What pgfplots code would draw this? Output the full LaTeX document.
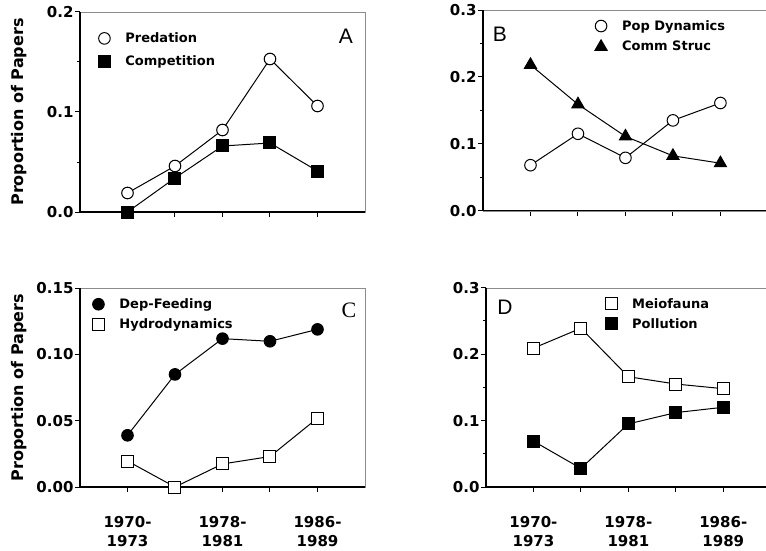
\documentclass[border=0pt]{standalone}
\usepackage{fontspec}
\setmainfont{DejaVu Sans}
\newfontfamily\lsans{Liberation Sans}
\newfontfamily\lserif{Liberation Serif}
\usepackage{pgfplots}
\pgfplotsset{compat=1.18}

\newcommand{\spines}{%
  \draw[black, line width=1.8pt] (rel axis cs:0,0) -- (rel axis cs:0,1);
  \draw[black, line width=1.3pt] (rel axis cs:0,0) -- (rel axis cs:1,0);
}

\pgfplotsset{
  legend image code/.code={\draw[#1, only marks] plot coordinates {(0pt,0pt)};},
  panel/.style={
    scale only axis, anchor=south west, clip=false,
    xmin=0, xmax=6, xtick={1,2,3,4,5}, xticklabels={},
    xtick pos=bottom, ytick pos=left,
    tick align=outside, major tick length=5pt, minor tick length=3pt,
    every tick/.style={black, line width=1pt},
    axis line style={black!45, line width=0.4pt},
    ticklabel style={font=\fontsize{15}{19}\selectfont\bfseries},
    yticklabel style={xshift=2pt},
    /pgf/number format/assume math mode=true,
    /pgf/number format/fixed, /pgf/number format/fixed zerofill,
    /pgf/number format/precision=1,
    every axis plot/.append style={black, line width=1pt, mark options={solid, line width=1.3pt}},
    legend style={draw=none, fill=none, inner sep=0pt, anchor=north west,
      font=\fontsize{13}{13}\selectfont\bfseries,
      nodes={inner sep=0pt}, row sep=8pt,
      /tikz/every odd column/.append style={column sep=15pt}},
    legend cell align=left,
  },
  leftlabel/.style={
    ylabel={Proportion of Papers},
    ylabel style={at={(axis description cs:-0.214,0.5)}, anchor=center,
      font=\fontsize{16}{16}\selectfont\bfseries},
  },
  bottomlabels/.style={
    xticklabels={{1970-\\1973},{},{1978-\\1981},{},{1986-\\1989}},
    xticklabel style={align=center, yshift=-21pt},
  },
}

\begin{document}
\begin{tikzpicture}
\useasboundingbox (0pt,0pt) rectangle (766pt,550pt);

% Panel A
\begin{axis}[panel, leftlabel, at={(80pt,338pt)}, width=285pt, height=200pt,
  ymin=0, ymax=0.2, ytick={0,0.1,0.2}, minor ytick={0.05,0.15},
  legend style={at={(0.064,0.898)}, row sep=11pt}]
  \spines
  \addplot[mark=*, mark size=5.8pt, mark options={fill=white}] coordinates {(1,0.019) (2,0.046) (3,0.082) (4,0.153) (5,0.106)};
  \addlegendentry{Predation}
  \addplot[mark=square*, mark size=6pt, mark options={fill=black}] coordinates {(1,0.0) (2,0.034) (3,0.066) (4,0.069) (5,0.041)};
  \addlegendentry{Competition}
  \node[font=\lsans\fontsize{21}{21}\selectfont] at (rel axis cs:0.933,0.88) {A};
\end{axis}

% Panel B
\begin{axis}[panel, at={(483pt,339.3pt)}, width=283pt, height=200.7pt,
  xmax=5.96,
  ymin=0, ymax=0.3, ytick={0,0.1,0.2,0.3}, minor ytick={0.05,0.15,0.25},
  legend style={at={(0.395,0.95)}}]
  \spines
  \addplot[mark=*, mark size=5.8pt, mark options={fill=white}] coordinates {(1,0.068) (2,0.115) (3,0.079) (4,0.135) (5,0.161)};
  \addlegendentry{Pop Dynamics}
  \addplot[mark=triangle*, mark size=7pt, mark options={fill=black}] coordinates {(1,0.218) (2,0.159) (3,0.111) (4,0.082) (5,0.071)};
  \addlegendentry{Comm Struc}
  \node[font=\lsans\fontsize{21}{21}\selectfont] at (rel axis cs:0.06,0.88) {B};
\end{axis}

% Panel C
\begin{axis}[panel, leftlabel, bottomlabels, at={(80pt,63pt)}, width=285pt, height=198.7pt,
  ymin=0, ymax=0.15, ytick={0,0.05,0.1,0.15},
  /pgf/number format/precision=2,
  legend style={at={(0.043,0.95)}}]
  \spines
  \addplot[mark=*, mark size=5.8pt, mark options={fill=black}] coordinates {(1,0.039) (2,0.085) (3,0.112) (4,0.110) (5,0.119)};
  \addlegendentry{Dep-Feeding}
  \addplot[mark=square*, mark size=6pt, mark options={fill=white}] coordinates {(1,0.0196) (2,0) (3,0.0174) (4,0.023) (5,0.052)};
  \addlegendentry{Hydrodynamics}
  \node[font=\lserif\fontsize{22}{22}\selectfont] at (rel axis cs:0.944,0.89) {C};
\end{axis}

% Panel D
\begin{axis}[panel, bottomlabels, at={(486pt,63pt)}, width=280pt, height=199.3pt,
  xmax=5.9,
  ymin=0, ymax=0.3, ytick={0,0.1,0.2,0.3}, minor ytick={0.05,0.15,0.25},
  legend style={at={(0.425,0.95)}}]
  \spines
  \addplot[mark=square*, mark size=6pt, mark options={fill=white}] coordinates {(1,0.209) (2,0.239) (3,0.166) (4,0.155) (5,0.148)};
  \addlegendentry{Meiofauna}
  \addplot[mark=square*, mark size=6pt, mark options={fill=black}] coordinates {(1,0.069) (2,0.028) (3,0.095) (4,0.112) (5,0.120)};
  \addlegendentry{Pollution}
  \node[font=\lsans\fontsize{21}{21}\selectfont] at (rel axis cs:0.068,0.90) {D};
\end{axis}
\end{tikzpicture}
\end{document}
